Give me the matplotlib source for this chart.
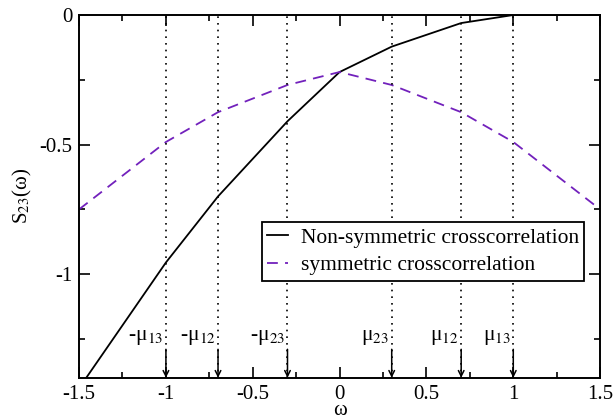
import matplotlib
matplotlib.use('Agg')
import matplotlib.pyplot as plt
from matplotlib.ticker import MultipleLocator

plt.rcParams['font.family'] = ['Liberation Serif', 'DejaVu Serif']
plt.rcParams['mathtext.fontset'] = 'stix'

# curve samples
omega = [-1.5, -1.0, -0.7, -0.3, 0.0, 0.3, 0.7, 1.0, 1.5]
s_nonsym = [-1.44, -0.955, -0.70, -0.41, -0.22, -0.122, -0.031, 0.0, 0.0]
s_sym = [-0.75, -0.49, -0.375, -0.27, -0.22, -0.27, -0.375, -0.49, -0.75]

# marked frequencies
mu_pos = [-1.0, -0.7, -0.3, 0.3, 0.7, 1.0]
mu_labels = ['-μ$_{13}$', '-μ$_{12}$', '-μ$_{23}$', 'μ$_{23}$', 'μ$_{12}$', 'μ$_{13}$']

fig = plt.figure(figsize=(6.13, 4.17), dpi=100)
ax = fig.add_axes([0.129, 0.094, 0.850, 0.870])

ax.plot(omega, s_nonsym, color='black', lw=1.3, label='Non-symmetric crosscorrelation')
ax.plot(omega, s_sym, color='#7221bc', lw=1.3, dashes=(6, 4), label='symmetric crosscorrelation')

for x, lab in zip(mu_pos, mu_labels):
    ax.axvline(x, color='black', lw=1.2, ls=(0, (1, 3)))
    ax.annotate('', xy=(x, -1.4), xytext=(x, -1.29),
                arrowprops=dict(arrowstyle='->', color='black', lw=1.1, shrinkA=0, shrinkB=0))
    ax.text(x - 0.015, -1.28, lab, ha='right', va='bottom', fontsize=15.5)

ax.set_xlim(-1.5, 1.5)
ax.set_ylim(-1.4, 0)
ax.xaxis.set_minor_locator(MultipleLocator(0.25))
ax.yaxis.set_minor_locator(MultipleLocator(0.25))
ax.set_xticks([-1.5, -1, -0.5, 0, 0.5, 1, 1.5])
ax.set_xticklabels(['-1.5', '-1', '-0.5', '0', '0.5', '1', '1.5'])
ax.set_yticks([-1, -0.5, 0])
ax.set_yticklabels(['-1', '-0.5', '0'])
ax.tick_params(which='both', direction='in', top=True, right=True, labelsize=15, width=1.2)
ax.tick_params(which='major', length=8, pad=5)
ax.tick_params(which='minor', length=4)
for sp in ax.spines.values():
    sp.set_linewidth(1.4)

ax.set_xlabel('ω', fontsize=15, labelpad=-2)
ax.set_ylabel('S$_{23}$(ω)', fontsize=15, labelpad=4)

leg = ax.legend(loc='upper left', bbox_to_anchor=(0.351, 0.429), fontsize=15.5,
                fancybox=False, framealpha=1, edgecolor='black', handlelength=0.95,
                borderpad=0.25, labelspacing=0.35, handletextpad=0.6, borderaxespad=0)
leg.get_frame().set_linewidth(1.3)

fig.savefig('out.png', dpi=100)
